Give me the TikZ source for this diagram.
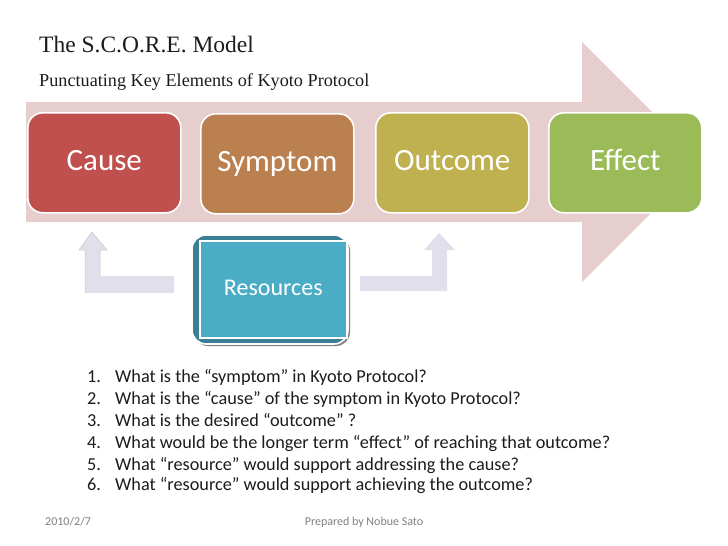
\documentclass[tikz,border=0pt]{standalone}
\usepackage{fontspec}
\setmainfont{Carlito}
\newfontfamily\titlefont{Liberation Serif}
\definecolor{barpink}{HTML}{E6CDCE}
\definecolor{causec}{HTML}{C0504D}
\definecolor{sympc}{HTML}{BB8050}
\definecolor{outc}{HTML}{BFB050}
\definecolor{effc}{HTML}{9BBB59}
\definecolor{teal}{HTML}{4BACC6}
\definecolor{darkteal}{HTML}{3A7F92}
\definecolor{lilac}{HTML}{E2DFEC}
\definecolor{txt}{HTML}{1C1C1C}
\definecolor{foot}{HTML}{808080}
\newcommand{\qitem}[2]{\makebox[28pt][l]{#1}#2}
\tikzset{
  x=1pt,y=-1pt,
  stage/.style={draw=white,line width=1.6pt,rounded corners=15pt,text=white,font=\fontsize{31}{34}\selectfont,inner sep=0pt,minimum width=153pt,minimum height=100pt,text height=22pt,text depth=6pt,anchor=north west},
  bent/.style={fill=lilac,draw=none},
  qline/.style={anchor=base west,inner sep=0pt,font=\fontsize{18.25}{20}\selectfont,text=txt},
  footer/.style={anchor=base,inner sep=0pt,font=\fontsize{12}{14}\selectfont,text=foot}
}
\begin{document}
\begin{tikzpicture}
\useasboundingbox (0,0) rectangle (728,546);
\fill[white] (0,0) rectangle (728,546);
\fill[barpink] (26,102) -- (582,102) -- (582,42) -- (702,162) -- (582,282) -- (582,222) -- (26,222) -- cycle;
\node[stage,fill=causec] (cause) at (27,112) {Cause};
\node[stage,fill=sympc] (symptom) at (200,113) {Symptom};
\node[stage,fill=outc] (outcome) at (375,112) {Outcome};
\node[stage,fill=effc] (effect) at (548,112) {Effect};
\fill[bent] (174,276) -- (100,276) -- (100,250) -- (107,250) -- (92,232) -- (79,250) -- (85,250) -- (85,293) -- (174,293) -- cycle;
\draw[gray!45,line width=.5pt] (85,293) -- (85,250) -- (79,250) -- (92,232) -- (107,250) -- (100,250) -- (100,276);
\fill[bent] (360,276) -- (432,276) -- (432,250) -- (424,250) -- (439,233) -- (455,250) -- (447,250) -- (447,291) -- (360,291) -- cycle;
\fill[black!50,rounded corners=14pt] (194,237) rectangle (350,346);
\draw[draw=white,fill=darkteal,line width=1.6pt,rounded corners=14pt] (192,235) rectangle (348,344);
\node[fill=teal,draw=white,line width=1.6pt,minimum width=147pt,minimum height=97pt,inner sep=0pt,text=white,font=\fontsize{24}{26}\selectfont,text height=12pt,text depth=0pt,anchor=north west] (res) at (199,240) {Resources};
\node[anchor=base west,inner sep=0pt,font=\titlefont\fontsize{23.5}{28}\selectfont,text=txt] (title) at (39,52) {The S.C.O.R.E. Model};
\node[anchor=base west,inner sep=0pt,font=\titlefont\fontsize{18.2}{22}\selectfont,text=txt] (sub) at (39,86) {Punctuating Key Elements of Kyoto Protocol};
\node[qline] (q1) at (87,382) {\qitem{1.}{What is the “symptom” in Kyoto Protocol?}};
\node[qline] (q2) at (87,404) {\qitem{2.}{What is the “cause” of the symptom in Kyoto Protocol?}};
\node[qline] (q3) at (87,426) {\qitem{3.}{What is the desired “outcome” ?}};
\node[qline] (q4) at (87,448) {\qitem{4.}{What would be the longer term “effect” of reaching that outcome?}};
\node[qline] (q5) at (87,470) {\qitem{5.}{What “resource” would support addressing the cause?}};
\node[qline] (q6) at (87,490) {\qitem{6.}{What “resource” would support achieving the outcome?}};
\node[footer,anchor=base west] (date) at (45,525) {2010/2/7};
\node[footer] (by) at (364,525) {Prepared by Nobue Sato};
\end{tikzpicture}
\end{document}
